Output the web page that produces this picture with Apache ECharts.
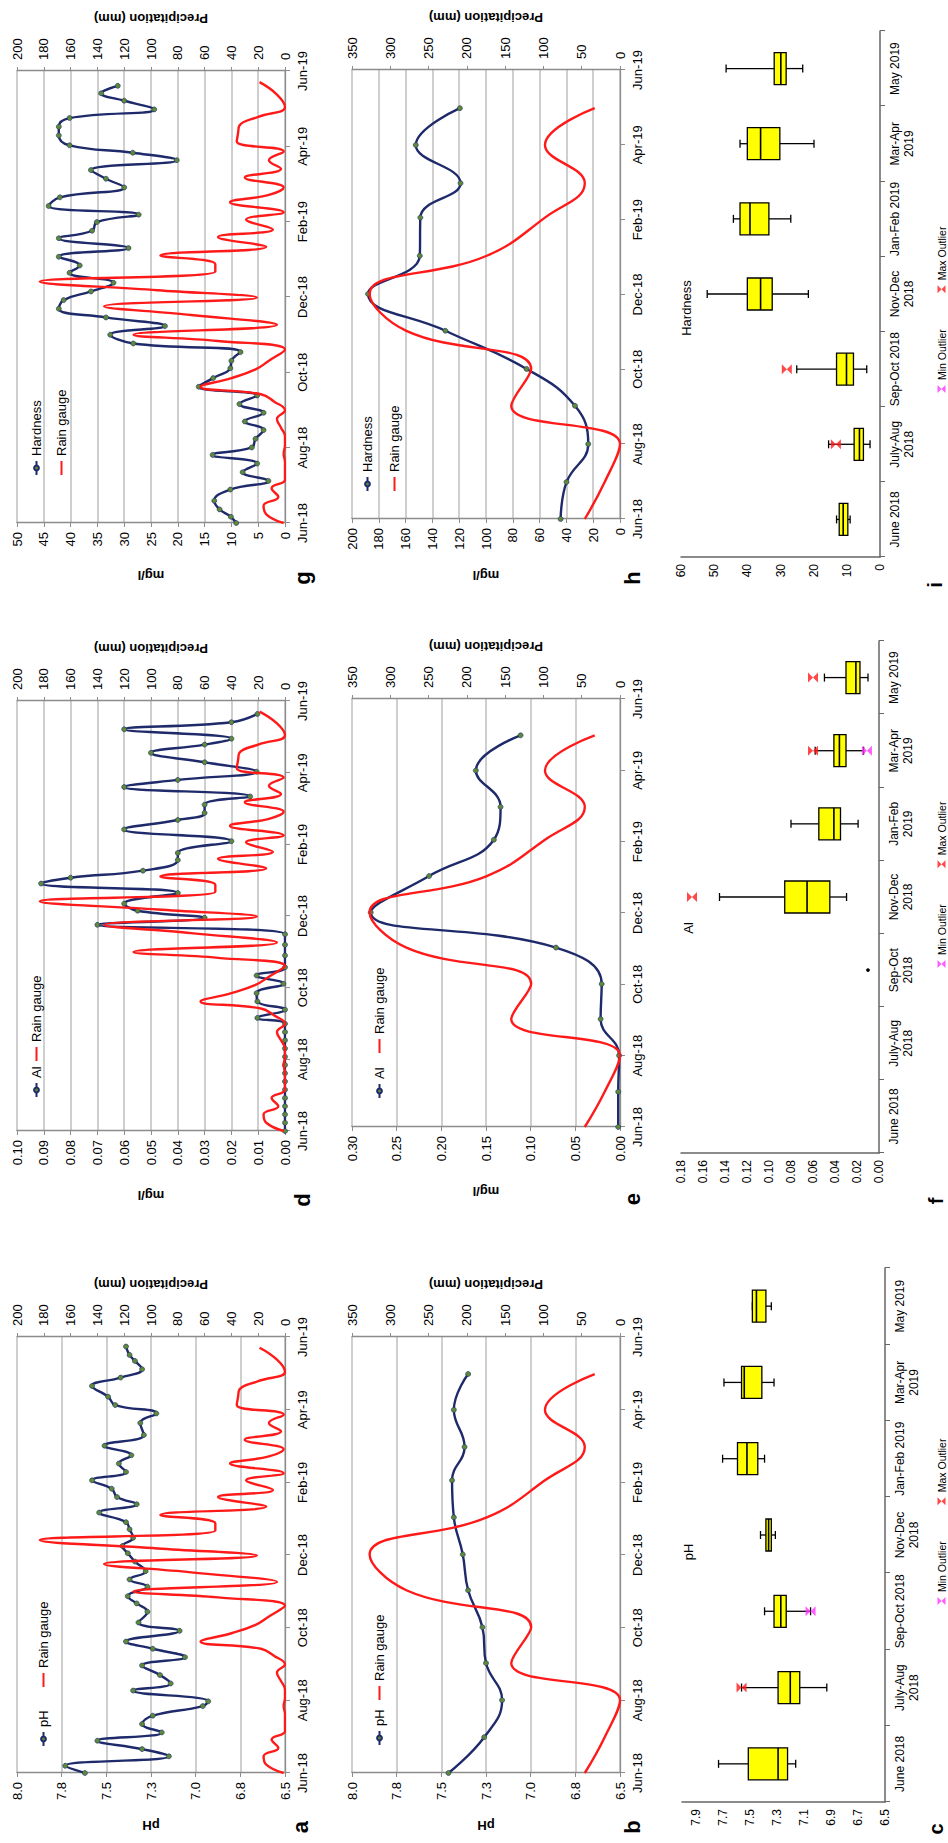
<!DOCTYPE html>
<html><head><meta charset="utf-8">
<script src="https://cdn.jsdelivr.net/npm/echarts@6/dist/echarts.min.js"></script>
<style>
html,body{margin:0;padding:0;background:#fff;overflow:hidden;width:948px;height:1843px;}
#chart{position:absolute;left:0;top:1843px;width:1843px;height:948px;transform-origin:0 0;transform:rotate(-90deg);background:#fff;}
</style></head><body><div id="chart"></div>
<script>
// ---------------- DATA ----------------
const timeLabels = ['Jun-18','Aug-18','Oct-18','Dec-18','Feb-19','Apr-19','Jun-19'];
// weekly rain gauge (day offset from 1 Jun 2018, mm)
const rainDays   = [0,7,14,21,28,35,42,49,56,63,70,77,84,91,98,104,110,117,124,131,140,147,152,160,168,175,182,188,195,203,209,216,223,231,237,245,251,259,265,271,279,286,293,300,308,315,321,328,336,346,356];
const rainWeekly = [1,14,16,5,10,0,0,0,1,0,0,3,6,0,8,18,63,40,22,12,0,50,113,6,70,135,21,95,183,52,52,93,14,50,9,29,1,41,12,1,30,3,12,1,36,35,34,20,0,6,19];
// weekly pH
const phDays   = [0,6,14,20,27,34,41,48,56,60,69,75,82,90,97,104,110,119,126,135,142,148,156,162,169,177,184,190,197,204,210,218,225,231,238,245,252,259,266,274,283,293,301,308,315,324,331,338,345,350,357];
const phWeekly = [7.62,7.73,7.15,7.30,7.55,7.19,7.30,7.24,6.96,6.93,7.35,7.14,7.20,7.30,7.06,7.24,7.39,7.09,7.32,7.27,7.33,7.38,7.27,7.37,7.28,7.34,7.38,7.41,7.35,7.37,7.39,7.54,7.33,7.44,7.47,7.58,7.39,7.43,7.36,7.51,7.29,7.31,7.22,7.45,7.49,7.58,7.42,7.30,7.34,7.37,7.39];
// weekly Al (mg/l)
const alDays   = [0,7,14,21,28,35,42,49,56,63,70,77,84,91,96,103,110,117,125,132,139,149,158,167,175,181,187,193,202,210,215,221,230,236,246,256,264,270,277,284,292,298,305,313,321,328,333,341,347,354];
const alWeekly = [0,0,0,0,0,0,0,0,0,0,0,0,0,0,0.0103,0,0.0103,0.0106,0.0006,0.0106,0,0,0,0,0.070,0.030,0.055,0.060,0.040,0.091,0.080,0.053,0.040,0.040,0.020,0.060,0.040,0.030,0.030,0.013,0.060,0.040,0.0106,0.030,0.050,0.030,0.020,0.060,0.020,0.0103];
// weekly Hardness (mg/l)
const hardDays   = [0,5,11,18,27,34,41,48,55,61,68,75,82,89,96,103,110,117,125,131,138,145,152,159,166,173,180,187,194,202,208,215,222,230,236,243,249,256,263,271,278,285,293,299,305,313,320,327,334,341,347,353];
const hardWeekly = [9.1,10.1,12.2,13.2,10.2,3.1,7.9,5.2,13.5,6.2,5.5,4.0,7.5,4.0,8.5,5.2,16.1,13.4,10.2,10.0,8.3,28.3,32.6,22.4,33.4,42.2,41.3,36.2,32.0,40.2,38.3,42.2,29.2,42.2,36.0,35.1,27.3,44.1,42.0,30.0,33.4,36.2,20.2,28.4,40.2,42.2,42.2,40.2,24.4,30.0,34.3,31.2];
// monthly (start of month, day offset)
const monthDays   = [0,30,61,92,122,153,183,214,245,273,304,334];
const rainMonthly = [46,20,0,142,116,279,327,174,98,46,98,33];
const phMonthly   = [7.46,7.26,7.16,7.25,7.27,7.35,7.38,7.43,7.44,7.37,7.43,7.35];
const alMonthly   = [0.002,0.002,0.001,0.0217,0.0205,0.0717,0.279,0.2137,0.1412,0.1337,0.1614,0.1113];
const hardMonthly = [44.3,39.9,23.7,33.6,69.7,130.3,188,149.4,149,119,152.4,119.5];
// box plots: [min, Q1, median, Q3, max]
const catsA = ['June 2018','July-Aug\n2018','Sep-Oct 2018','Nov-Dec\n2018','Jan-Feb 2019','Mar-Apr\n2019','May 2019'];
const catsB = ['June 2018','July-Aug\n2018','Sep-Oct\n2018','Nov-Dec\n2018','Jan-Feb\n2019','Mar-Apr\n2019','May 2019'];
const phBox = [[7.16,7.22,7.29,7.51,7.73],[6.93,7.13,7.20,7.29,7.56],[7.05,7.23,7.27,7.32,7.39],[7.31,7.34,7.36,7.38,7.42],[7.39,7.44,7.52,7.59,7.70],[7.32,7.41,7.54,7.56,7.69],[7.34,7.38,7.45,7.48,7.48]];
const phMaxOut = [[1,7.56]];
const phMinOut = [[2,7.05]];
const alBox = [null,null,[0.010,0.010,0.010,0.010,0.010],[0.0295,0.0447,0.0654,0.0857,0.145],[0.019,0.035,0.041,0.0547,0.080],[0.014,0.030,0.036,0.041,0.058],[0.010,0.0173,0.021,0.030,0.0496]];
const alMaxOut = [[3,0.170],[5,0.060],[6,0.060]];
const alMinOut = [[5,0.011]];
const hardBox = [[9.0,9.7,11.1,12.3,13.1],[3.0,5.0,6.2,7.8,15.5],[4.0,8.0,10.1,13.1,25.1],[21.6,32.5,36.0,40.0,52.1],[26.9,33.5,39.2,42.2,44.2],[19.9,30.2,36.0,40.0,42.2],[23.3,28.3,29.9,31.9,46.4]];
const hardMaxOut = [[1,13.3],[2,28.1]];
const hardMinOut = [];

// ---------------- LAYOUT ----------------
const FONT = "'Liberation Sans', Arial, sans-serif";
const BLUE = '#1f2a6b', RED = '#ff1a1a', AXIS = '#8c8c8c', GRIDC = '#bfbfbf';
const toM = d => d * 12 / 365;
const pairs = (xs, ys) => xs.map((d, i) => [toM(d), ys[i]]);

const linePanels = [
  {g:[70,17,436,268],   y:[6.5,8,0.25,1,'pH'],   ng:46, r:[200,20], nm:'pH',       d:pairs(phDays,phWeekly),       rain:pairs(rainDays,rainWeekly),   lg:[[91,32],[150,32]]},
  {g:[70,352,436,268],  y:[6.5,8,0.25,1,'pH'],   ng:46, r:[350,50], nm:'pH',       d:pairs(monthDays,phMonthly),   rain:pairs(monthDays,rainMonthly), lg:[[92,368],[137,368]]},
  {g:[712,17,430,268],  y:[0,0.10,0.01,2,'mg/l'],ng:58, r:[200,20], nm:'Al',       d:pairs(alDays,alWeekly),       rain:pairs(rainDays,rainWeekly),   lg:[[740,25],[776,25]]},
  {g:[716,352,428,268], y:[0,0.30,0.05,2,'mg/l'],ng:58, r:[350,50], nm:'Al',       d:pairs(monthDays,alMonthly),   rain:pairs(monthDays,rainMonthly), lg:[[739,368],[784,368]]},
  {g:[1320,17,452,268], y:[0,50,5,0,'mg/l'],     ng:46, r:[200,20], nm:'Hardness', d:pairs(hardDays,hardWeekly),   rain:pairs(rainDays,rainWeekly),   lg:[[1362,25],[1362,50]]},
  {g:[1324,352,449,268],y:[0,200,20,0,'mg/l'],   ng:50, r:[350,50], nm:'Hardness', d:pairs(monthDays,hardMonthly), rain:pairs(monthDays,rainMonthly), lg:[[1346,356],[1346,383]]}
];
const boxPanels = [
  {g:[41,682,534,203],  y:[6.5,8.0,0.2,1], cats:catsA, box:phBox,   mx:phMaxOut,   mn:phMinOut,   lg:233},
  {g:[690,681,512,198], y:[0,0.18,0.02,2], cats:catsB, box:alBox,   mx:alMaxOut,   mn:alMinOut,   lg:870},
  {g:[1286,681,526,199],y:[0,60,10,0],     cats:catsA, box:hardBox, mx:hardMaxOut, mn:hardMinOut, lg:1445}
];

const grids = [], xAxes = [], yAxes = [], series = [], legends = [];
const lbl = {fontSize:13, color:'#000', fontFamily:FONT};
const legText = {fontSize:13, color:'#000', fontFamily:FONT};

linePanels.forEach((p, k) => {
  grids.push({left:p.g[0], top:p.g[1], width:p.g[2], height:p.g[3], outerBoundsMode:'none'});
  xAxes.push({type:'value', gridIndex:k, min:0, max:12, interval:2,
    axisLabel:Object.assign({margin:11, formatter:v => timeLabels[Math.round(v/2)] || ''}, lbl),
    axisLine:{show:true, onZero:false, lineStyle:{color:AXIS, width:1.3}},
    axisTick:{show:true, length:5, lineStyle:{color:AXIS}}, splitLine:{show:false}});
  yAxes.push({type:'value', gridIndex:k, position:'left', min:p.y[0], max:p.y[1], interval:p.y[2],
    axisLabel:Object.assign({margin:9, formatter:v => v.toFixed(p.y[3])}, lbl),
    axisLine:{show:true, lineStyle:{color:AXIS, width:1.3}}, axisTick:{show:true, length:4, lineStyle:{color:AXIS}},
    splitLine:{show:true, lineStyle:{color:GRIDC, width:1.5}},
    name:p.y[4], nameLocation:'middle', nameRotate:90, nameGap:p.ng,
    nameTextStyle:{fontSize:13, fontWeight:'bold', color:'#000', fontFamily:FONT}});
  yAxes.push({type:'value', gridIndex:k, position:'right', min:0, max:p.r[0], interval:p.r[1],
    axisLabel:Object.assign({margin:11}, lbl),
    axisLine:{show:true, lineStyle:{color:AXIS, width:1.3}}, axisTick:{show:true, length:4, lineStyle:{color:AXIS}},
    splitLine:{show:false},
    name:'Precipitation (mm)', nameLocation:'middle', nameRotate:90, nameGap:46,
    nameTextStyle:{fontSize:13, fontWeight:'bold', color:'#000', fontFamily:FONT}});
  series.push({type:'line', name:p.nm, xAxisIndex:k, yAxisIndex:2*k, data:p.d, smooth:0.45,
    symbol:'circle', symbolSize:5, showSymbol:true,
    lineStyle:{color:BLUE, width:2.4}, itemStyle:{color:'#5d8a3a', borderColor:BLUE, borderWidth:0.6}, z:3});
  series.push({type:'line', name:'Rain gauge', xAxisIndex:k, yAxisIndex:2*k+1, data:p.rain, smooth:0.45,
    symbol:'none', lineStyle:{color:RED, width:2.4}, itemStyle:{color:RED}, z:4});
  legends.push({left:p.lg[0][0], top:p.lg[0][1], itemGap:0, itemWidth:14, itemHeight:6, selectedMode:false,
    data:[{name:p.nm}], textStyle:legText});
  legends.push({left:p.lg[1][0], top:p.lg[1][1], itemGap:0, itemWidth:14, itemHeight:6, selectedMode:false,
    data:[{name:'Rain gauge', itemStyle:{opacity:0}}], textStyle:legText});
});

function renderBox(params, api) {
  const c = api.value(0);
  const v = [api.value(1), api.value(2), api.value(3), api.value(4), api.value(5)];
  const pts = v.map(val => api.coord([c, val]));
  const x = pts[0][0], hw = 16, cw = 4;
  const st = {stroke:'#000', lineWidth:1.3};
  if (v[4] - v[0] < 1e-9) {
    return {type:'circle', shape:{cx:x, cy:pts[2][1], r:1.8}, style:{fill:'#000'}};
  }
  return {type:'group', children:[
    {type:'line', shape:{x1:x, y1:pts[4][1], x2:x, y2:pts[3][1]}, style:st},
    {type:'line', shape:{x1:x, y1:pts[1][1], x2:x, y2:pts[0][1]}, style:st},
    {type:'line', shape:{x1:x-cw, y1:pts[4][1], x2:x+cw, y2:pts[4][1]}, style:st},
    {type:'line', shape:{x1:x-cw, y1:pts[0][1], x2:x+cw, y2:pts[0][1]}, style:st},
    {type:'rect', shape:{x:x-hw, y:pts[3][1], width:2*hw, height:Math.max(pts[1][1]-pts[3][1],1)}, style:{fill:'#ffff00', stroke:'#000', lineWidth:1.3}},
    {type:'line', shape:{x1:x-hw, y1:pts[2][1], x2:x+hw, y2:pts[2][1]}, style:{stroke:'#000', lineWidth:1.6}}
  ]};
}
const HOUR = 'path://M0,0 L10,0 L0,10 L10,10 Z';

boxPanels.forEach((p, j) => {
  const k = 6 + j, yi = 12 + j;
  grids.push({left:p.g[0], top:p.g[1], width:p.g[2], height:p.g[3], outerBoundsMode:'none'});
  xAxes.push({type:'category', gridIndex:k, data:p.cats, boundaryGap:true,
    axisLabel:{fontSize:12, color:'#000', fontFamily:FONT, lineHeight:14, margin:8, interval:0},
    axisLine:{show:true, lineStyle:{color:'#666', width:1.5}},
    axisTick:{show:true, alignWithLabel:false, length:5, lineStyle:{color:'#666'}}, splitLine:{show:false}});
  yAxes.push({type:'value', gridIndex:k, min:p.y[0], max:p.y[1], interval:p.y[2],
    axisLabel:{fontSize:12, color:'#000', fontFamily:FONT, margin:7, showMaxLabel:p.y[0]===6.5?false:true, formatter:v => v.toFixed(p.y[3])},
    axisLine:{show:true, lineStyle:{color:'#666', width:1.5}}, axisTick:{show:false}, splitLine:{show:false}});
  const bdata = [];
  p.box.forEach((b, i) => { if (b) bdata.push([i].concat(b)); });
  series.push({type:'custom', name:'box'+j, xAxisIndex:k, yAxisIndex:yi, renderItem:renderBox,
    encode:{x:0, y:[1,2,3,4,5]}, data:bdata, z:2});
  series.push({type:'scatter', name:'Min Outlier', xAxisIndex:k, yAxisIndex:yi, data:p.mn,
    symbol:HOUR, symbolSize:[10,10], itemStyle:{color:'#ff33ff'}, z:5});
  series.push({type:'scatter', name:'Max Outlier', xAxisIndex:k, yAxisIndex:yi, data:p.mx,
    symbol:HOUR, symbolSize:[10,10], itemStyle:{color:'#ff1a1a'}, z:5});
  legends.push({left:p.lg, top:931, orient:'horizontal', itemGap:36, itemWidth:8, itemHeight:8,
    data:['Min Outlier','Max Outlier'], selectedMode:false,
    textStyle:{fontSize:10.5, color:'#000', fontFamily:FONT}});
});

const gtext = (t, x, y, size, weight) => ({type:'text', x:x, y:y, style:{text:t, fontSize:size, fontWeight:weight, fontFamily:FONT, fill:'#000', align:'center', verticalAlign:'middle'}});
const graphics = [
  gtext('a',16,300,22,'bold'), gtext('b',16,632,22,'bold'), gtext('c',14,936,20,'bold'),
  gtext('d',643,302,22,'bold'), gtext('e',644,632,22,'bold'), gtext('f',642,936,20,'bold'),
  gtext('g',1265,302,22,'bold'), gtext('h',1265,632,22,'bold'), gtext('i',1258,935,20,'bold'),
  gtext('pH',291,688,13,'normal'), gtext('Al',915,688,13,'normal'), gtext('Hardness',1535,686,13,'normal')
];

const chart = echarts.init(document.getElementById('chart'), null, {renderer:'svg', width:1843, height:948});
chart.setOption({
  animation:false, backgroundColor:'#fff', textStyle:{fontFamily:FONT},
  grid:grids, xAxis:xAxes, yAxis:yAxes, series:series, legend:legends, graphic:graphics
});
</script></body></html>
